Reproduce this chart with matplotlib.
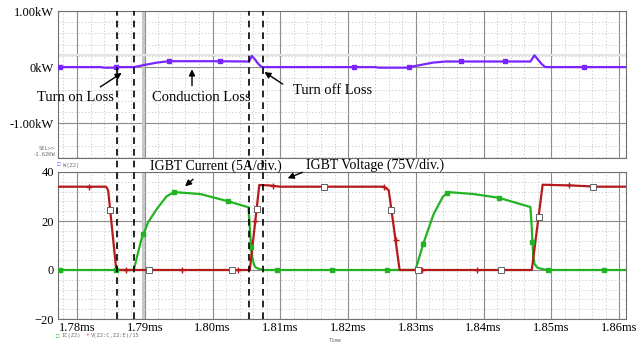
import numpy as np
import matplotlib
matplotlib.use("Agg")
import matplotlib.pyplot as plt
from matplotlib.ticker import MultipleLocator, FuncFormatter

# time axis in ms
# IGBT collector-emitter voltage / 15
v_t = [1.7772, 1.7843, 1.7846, 1.7858, 1.8055, 1.8069, 1.8085, 1.8100, 1.8253, 1.8260,
       1.8276, 1.8471, 1.8487, 1.8530, 1.8568, 1.8610]
v_val = [34.0, 34.0, 32.5, 0.0, 0.0, 34.7, 34.5, 34.0, 34.0, 32.5,
         0.0, 0.0, 34.8, 34.5, 34.0, 34.0]

# IGBT collector current
i_t = [1.7772, 1.78837, 1.7895, 1.7905, 1.7918, 1.7932, 1.7943, 1.7982, 1.8021, 1.8053,
       1.8056, 1.8058, 1.8061, 1.8063, 1.8068, 1.8075,
       1.82994, 1.8311, 1.8326, 1.8340, 1.8348, 1.8385, 1.8422, 1.8469,
       1.8471, 1.8473, 1.8475, 1.8479, 1.8486, 1.8494, 1.8610]
i_val = [0.0, 0.0, 12.5, 19.5, 25.0, 30.0, 31.8, 31.0, 28.2, 25.6,
         13.0, 6.0, 2.3, 1.2, 0.5, 0.0,
         0.0, 10.8, 22.7, 30.0, 31.8, 31.0, 29.5, 25.7,
         17.0, 6.0, 2.5, 1.0, 0.4, 0.0, 0.0]

# IGBT power loss (kW)
p_t = [1.7772, 1.7835, 1.7840, 1.7855, 1.7860, 1.78837, 1.7900, 1.7918, 1.7935, 1.8000,
       1.8054, 1.8058, 1.8063, 1.8068, 1.8073, 1.8240, 1.8245, 1.8285, 1.8290, 1.8310,
       1.8325, 1.8344, 1.8400, 1.8469, 1.8475, 1.8481, 1.8486, 1.8491, 1.8610]
p_val = [0.0, 0.0, -0.01, -0.01, 0.0, 0.0, 0.04, 0.08, 0.105, 0.105,
         0.10, 0.20, 0.13, 0.05, 0.0, 0.0, -0.01, -0.01, 0.0, 0.045,
         0.08, 0.10, 0.10, 0.10, 0.21, 0.12, 0.05, 0.0, 0.0]

# trace marker positions (ms)
i_marks = [1.7775, 1.7857, 1.7898, 1.7943, 1.8023, 1.8057, 1.8095, 1.8176, 1.8258,
           1.8311, 1.8346, 1.8422, 1.8472, 1.8495, 1.8577]
v_box_marks = [1.7849, 1.7906, 1.8029, 1.8065, 1.8165, 1.8264, 1.8303, 1.8425, 1.8481, 1.8562]
v_plus_marks = [1.7817, 1.7872, 1.7955, 1.8037, 1.8063, 1.8089, 1.8253, 1.8270, 1.8309,
                1.8390, 1.8526]
p_marks = [1.7775, 1.7857, 1.7936, 1.8011, 1.8208, 1.8290, 1.8366, 1.8432, 1.8548]

# switching instants (dashed) and cursor
events = [1.7859, 1.78837, 1.80539, 1.8075]
cursor_t = 1.78979

RED = "#b51a1a"
GREEN = "#22b322"
PURPLE = "#7a25ff"
SMALL = dict(fontsize=4, family='DejaVu Sans Mono', color='#707070', va='center')

plt.rcParams['font.family'] = ['Liberation Serif', 'DejaVu Serif']

fig = plt.figure(figsize=(6.37, 3.45), dpi=100)
ax1 = fig.add_axes([58/637, 1-158/345, 568/637, 147/345])
ax2 = fig.add_axes([58/637, 1-319/345, 568/637, 147/345])

for ax in (ax1, ax2):
    ax.set_xlim(1.7772, 1.8610)
    ax.xaxis.set_major_locator(MultipleLocator(0.01))
    ax.xaxis.set_minor_locator(MultipleLocator(0.002))
    ax.grid(which='major', color='#8c8c8c', lw=0.8, ls='-')
    ax.grid(which='minor', color='#c4c4c4', lw=0.6, ls=(0, (1.5, 2.5)))
    ax.tick_params(which='both', length=0, labelsize=9, pad=3)
    for s in ax.spines.values():
        s.set_color('#707070')
        s.set_linewidth(0.8)
    ax.set_axisbelow(True)
    ax.axvline(cursor_t, color='#c8c8c8', lw=2.2, zorder=1)

# top: power
ax1.set_ylim(-1.62, 1.0)
ax1.yaxis.set_major_locator(MultipleLocator(1.0))
ax1.yaxis.set_minor_locator(MultipleLocator(0.2))
ax1.yaxis.set_major_formatter(FuncFormatter(
    lambda y, p: "0kW" if abs(y) < 1e-9 else ("%.2fkW" % y if -1.5 < y else "")))
ax1.set_xticklabels([])
ax1.axhline(0.21, color='#e4e4e4', lw=1.5, zorder=1)
ax1.plot(p_t, p_val, color=PURPLE, lw=1.6, zorder=3)
ax1.plot(p_marks, np.interp(p_marks, p_t, p_val), ls='none', marker='s', ms=3,
         color=PURPLE, zorder=4)

ann = dict(arrowstyle='-|>', color='black', lw=1.0, mutation_scale=9)
ax1.annotate("", xy=(1.78694, -0.077), xytext=(1.7831, -0.38), arrowprops=ann)
ax1.text(1.7797, -0.54, "Turn on Loss", fontsize=10.5, ha='center', va='center')
ax1.annotate("", xy=(1.79697, 0.01), xytext=(1.79697, -0.38), arrowprops=ann)
ax1.text(1.7983, -0.54, "Conduction Loss", fontsize=10.5, ha='center', va='center')
ax1.annotate("", xy=(1.80731, -0.06), xytext=(1.8107, -0.33), arrowprops=ann)
ax1.text(1.8119, -0.42, "Turn off Loss", fontsize=10.5, ha='left', va='center')

fig.text(55/637, 1-148/345, "SEL>>", ha='right', **SMALL)
fig.text(55/637, 1-155/345, "-1.62KW", ha='right', **SMALL)
fig.text(57/637, 1-165/345, "\u25a1", fontsize=4, color=PURPLE, va='center')
fig.text(63/637, 1-165/345, "W(Z2)", **SMALL)

# bottom: current and voltage
ax2.set_ylim(-20, 40)
ax2.yaxis.set_major_locator(MultipleLocator(20))
ax2.yaxis.set_minor_locator(MultipleLocator(4))
ax2.xaxis.set_major_formatter(FuncFormatter(lambda x, p: "%.2fms" % x))
ax2.tick_params(axis='x', pad=2)
ax2.plot(i_t, i_val, color=GREEN, lw=1.6, zorder=3)
ax2.plot(v_t, v_val, color=RED, lw=1.6, zorder=4)
ax2.plot(i_marks, np.interp(i_marks, i_t, i_val), ls='none', marker='s', ms=3,
         color=GREEN, zorder=5)
ax2.plot(v_plus_marks, np.interp(v_plus_marks, v_t, v_val), ls='none', marker='+',
         ms=4, mew=1, color=RED, zorder=5)
ax2.plot(v_box_marks, np.interp(v_box_marks, v_t, v_val), ls='none', marker='s', ms=4.5,
         mfc='white', mec='#606060', mew=0.7, zorder=6)

ax2.annotate("", xy=(1.79565, 33.4), xytext=(1.79742, 37.8), arrowprops=ann)
ax2.text(1.8005, 42.5, "IGBT Current (5A/div.)", fontsize=10, ha='center', va='center')
ax2.annotate("", xy=(1.8107, 37.0), xytext=(1.81365, 40.3), arrowprops=ann)
ax2.text(1.8240, 42.8, "IGBT Voltage (75V/div.)", fontsize=10, ha='center', va='center')

for t in events:
    ax2.axvline(t, ymin=0, ymax=(319-11)/147, color='black', lw=1.2,
                ls=(0, (4, 3)), clip_on=False, zorder=10)

fig.text(56/637, 1-336/345, "\u25a1", fontsize=4, color=GREEN, va='center')
fig.text(61/637, 1-336/345, "IC(Z2)", **SMALL)
fig.text(86/637, 1-336/345, "+", fontsize=5, color=RED, va='center')
fig.text(91/637, 1-336/345, "V(Z2:C,Z2:E)/15", **SMALL)
fig.text(335/637, 1-341/345, "Time", ha='center', **SMALL)

fig.savefig("out.png", dpi=100)
